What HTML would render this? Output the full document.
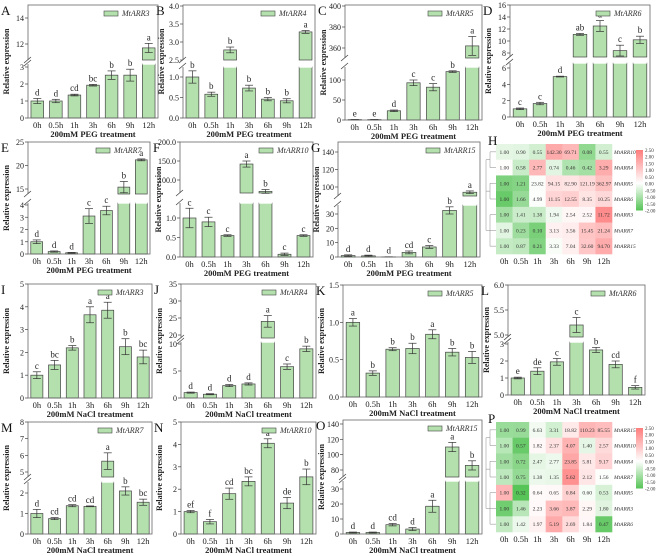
<!DOCTYPE html>
<html><head><meta charset="utf-8">
<style>
html,body{margin:0;padding:0;background:#fff;}
svg{display:block;font-family:"Liberation Serif",serif;}
</style></head>
<body>
<svg id="fig" width="657" height="556" viewBox="0 0 657 556" xmlns="http://www.w3.org/2000/svg"></svg>
<script>
const categories = ["0h","0.5h","1h","3h","6h","9h","12h"];
const valsA = [1,1,1.35,1.93,2.52,2.52,11.7];
const errA = [0.15,0.1,0.05,0.05,0.25,0.35,0.35];
const letA = ["d","d","cd","bc","b","b","a"];
const valsB = [1,0.58,2.78,0.73,0.46,0.42,3.28];
const errB = [0.15,0.05,0.08,0.07,0.04,0.05,0.04];
const letB = ["b","b","b","b","b","b","a"];
const valsC = [1,1,23,93,82,121,362];
const errC = [0.5,0.5,2,7,9,2,9];
const letC = ["e","e","d","c","c","b","a"];
const valsD = [1,1.65,4.95,11.1,12.5,8.4,10.2];
const errD = [0.1,0.15,0.05,0.15,0.9,0.9,0.6];
const letD = ["c","c","d","ab","a","c","b"];
const valsE = [1,0.2,0.1,3.1,3.55,15.4,21.2];
const errE = [0.15,0.05,0.03,0.6,0.35,1.2,0.2];
const letE = ["d","d","d","c","c","b","a"];
const valsF = [1,0.9,0.55,142,70,0.07,0.55];
const errF = [0.25,0.12,0.02,8,5,0.03,0.02];
const letF = ["c","c","c","a","b","c","c"];
const valsG = [1,0.8,0.1,3.2,7,32.5,94];
const errG = [0.5,0.5,0.1,1,1,2.5,1.5];
const letG = ["d","d","d","cd","c","b","a"];
const valsI = [1,1.45,2.2,3.65,3.85,2.25,1.8];
const errI = [0.15,0.2,0.1,0.35,0.35,0.35,0.3];
const letI = ["c","bc","b","a","a","b","bc"];
const valsJ = [1,0.7,2.3,2.6,24,5.8,9.1];
const errJ = [0.1,0.1,0.2,0.2,1.7,0.5,0.5];
const letJ = ["d","d","d","d","a","c","b"];
const valsK = [1,0.32,0.64,0.65,0.84,0.6,0.53];
const errK = [0.05,0.03,0.02,0.07,0.06,0.05,0.08];
const letK = ["a","b","b","b","a","b","b"];
const valsL = [1,1.4,1.95,5.2,2.65,1.8,0.45];
const errL = [0.05,0.2,0.2,0.15,0.15,0.2,0.1];
const letL = ["e","de","c","c","b","cd","f"];
const valsM = [1,0.75,1.38,1.35,5.65,2.1,1.55];
const errM = [0.2,0.05,0.05,0.02,0.5,0.2,0.15];
const letM = ["d","cd","cd","cd","a","b","bc"];
const valsN = [1,0.55,1.8,2.35,4.05,1.38,2.55];
const errN = [0.05,0.1,0.25,0.2,0.2,0.25,0.35];
const letN = ["ef","f","cd","bc","a","de","b"];
const valsO = [1,1,6.2,3.3,18.5,110,86];
const errO = [0.3,0.3,0.8,1,4,6,6];
const letO = ["d","d","cd","d","a","a","b"];

const heatRowsH = ["MtARR10","MtARR4","MtARR5","MtARR6","MtARR3","MtARR7","MtARR15"];
const heatH = [
 [1.00,0.90,0.55,142.30,69.71,0.08,0.55],
 [1.00,0.58,2.77,0.74,0.46,0.42,3.29],
 [1.00,1.21,23.82,94.15,82.90,121.19,362.97],
 [1.00,1.66,4.99,11.15,12.55,8.35,10.25],
 [1.00,1.41,1.38,1.94,2.54,2.52,11.72],
 [1.00,0.23,0.10,3.13,3.56,15.45,21.24],
 [1.00,0.87,0.21,3.33,7.04,32.60,94.70]];
const heatRowsP = ["MtARR15","MtARR10","MtARR4","MtARR7","MtARR5","MtARR3","MtARR6"];
const heatP = [
 [1.00,0.99,6.63,3.31,18.82,110.23,85.55],
 [1.00,0.57,1.82,2.37,4.07,1.40,2.57],
 [1.00,0.72,2.47,2.77,23.85,5.81,9.17],
 [1.00,0.75,1.38,1.35,5.62,2.12,1.56],
 [1.00,0.32,0.64,0.65,0.84,0.60,0.53],
 [1.00,1.46,2.23,3.66,3.87,2.29,1.80],
 [1.00,1.42,1.97,5.19,2.69,1.84,0.47]];
const cbTicks = ["2.50","2.00","1.50","1.00","0.50","0.00","-0.50","-1.00","-1.50","-2.00"];

const NS="http://www.w3.org/2000/svg";
const svg=document.getElementById('fig');
function el(tag,attrs,parent,text){const e=document.createElementNS(NS,tag);for(const k in attrs)e.setAttribute(k,attrs[k]);if(text!==undefined)e.textContent=text;(parent||svg).appendChild(e);return e;}

const PEG="200mM PEG treatment", NACL="200mM NaCl treatment";
const panels=[
 {id:"A",gene:"MtARR3",vals:valsA,err:errA,let:letA,x0:28,x1:158,top:5,bot:118,title:PEG,
  segs:[{va:0,ya:118,vb:3,yb:67,lo:118,hi:64,ticks:[0,1,2,3]},{va:12,ya:44,vb:14,yb:18,lo:60,hi:5,ticks:[12,14]}],fmt:0},
 {id:"B",gene:"MtARR4",vals:valsB,err:errB,let:letB,x0:183,x1:315,top:5,bot:118,title:PEG,
  segs:[{va:0,ya:118,vb:1,yb:77,lo:118,hi:67,ticks:[0,0.5,1]},{va:3,ya:42,vb:4,yb:6,lo:60,hi:5,ticks:[2.5,3,3.5,4]}],fmt:1},
 {id:"C",gene:"MtARR5",vals:valsC,err:errC,let:letC,x0:345,x1:482,top:5,bot:120,title:PEG,
  segs:[{va:0,ya:120,vb:100,yb:80,lo:120,hi:67,ticks:[0,50,100]},{va:360,ya:48,vb:400,yb:6,lo:58,hi:5,ticks:[360,380,400]}],fmt:0},
 {id:"D",gene:"MtARR6",vals:valsD,err:errD,let:letD,x0:510,x1:650,top:5,bot:117,title:PEG,
  segs:[{va:0,ya:117,vb:6,yb:68,lo:117,hi:63,ticks:[0,2,4,6]},{va:8,ya:53,vb:16,yb:5,lo:57,hi:5,ticks:[8,10,12,14,16]}],fmt:0},
 {id:"E",gene:"MtARR7",vals:valsE,err:errE,let:letE,x0:28,x1:150,top:142,bot:254,title:PEG,
  segs:[{va:0,ya:254,vb:4,yb:205,lo:254,hi:203,ticks:[0,1,2,3,4]},{va:15,ya:189,vb:25,yb:142,lo:194,hi:142,ticks:[15,20,25]}],fmt:0},
 {id:"F",gene:"MtARR10",vals:valsF,err:errF,let:letF,x0:180,x1:313,top:142,bot:257,title:PEG,
  segs:[{va:0,ya:257,vb:1,yb:218,lo:257,hi:203,ticks:[0,0.5,1]},{va:100,ya:180,vb:200,yb:142,lo:193,hi:142,ticks:[100,150,200]}],fmt:1},
 {id:"G",gene:"MtARR15",vals:valsG,err:errG,let:letG,x0:338,x1:480,top:142,bot:257,title:PEG,
  segs:[{va:0,ya:257,vb:30,yb:214,lo:257,hi:205,ticks:[0,10,20,30]},{va:100,ya:187,vb:140,yb:152,lo:196,hi:142,ticks:[100,120,140]}],fmt:0},
 {id:"I",gene:"MtARR3",vals:valsI,err:errI,let:letI,x0:28,x1:152,top:284,bot:398,title:NACL,
  segs:[{va:0,ya:398,vb:5,yb:284,lo:398,hi:284,ticks:[0,1,2,3,4,5]}],fmt:0},
 {id:"J",gene:"MtARR4",vals:valsJ,err:errJ,let:letJ,x0:181,x1:316,top:284,bot:398,title:NACL,
  segs:[{va:0,ya:398,vb:10,yb:344,lo:398,hi:342,ticks:[0,5,10]},{va:20,ya:335,vb:35,yb:284,lo:338,hi:284,ticks:[20,25,30,35]}],fmt:0},
 {id:"K",gene:"MtARR5",vals:valsK,err:errK,let:letK,x0:343,x1:482,top:285,bot:397,title:NACL,
  segs:[{va:0,ya:397,vb:1.5,yb:285,lo:397,hi:285,ticks:[0,0.5,1,1.5]}],fmt:1},
 {id:"L",gene:"MtARR6",vals:valsL,err:errL,let:letL,x0:508,x1:645,top:285,bot:395,title:NACL,
  segs:[{va:0,ya:395,vb:3,yb:344,lo:395,hi:342,ticks:[0,1,2,3]},{va:5,ya:335,vb:6,yb:285,lo:337,hi:285,ticks:[5,5.5,6]}],fmt:1,fmtLow:0},
 {id:"M",gene:"MtARR7",vals:valsM,err:errM,let:letM,x0:28,x1:152,top:422,bot:534,title:NACL,
  segs:[{va:0,ya:534,vb:2,yb:493,lo:534,hi:482,ticks:[0,1,2]},{va:5,ya:472,vb:8,yb:422,lo:477,hi:422,ticks:[5,6,7,8]}],fmt:0},
 {id:"N",gene:"MtARR10",vals:valsN,err:errN,let:letN,x0:181,x1:316,top:422,bot:534,title:NACL,
  segs:[{va:0,ya:534,vb:5,yb:422,lo:534,hi:422,ticks:[0,1,2,3,4,5]}],fmt:0},
 {id:"O",gene:"MtARR15",vals:valsO,err:errO,let:letO,x0:343,x1:482,top:420,bot:534,title:NACL,
  segs:[{va:0,ya:534,vb:30,yb:489,lo:534,hi:481,ticks:[0,10,20,30]},{va:80,ya:470,vb:140,yb:424,lo:477,hi:420,ticks:[80,100,120,140]}],fmt:0}
];

function drawPanel(p){
  const g=el('g',{},svg);
  
  
  const y=(s,v)=>s.ya+(v-s.va)*(s.yb-s.ya)/(s.vb-s.va);
  const n=categories.length, step=(p.x1-p.x0)/n, bw=step*0.68;
  p.vals.forEach((v,i)=>{
    const cx=p.x0+step*(i+0.5);
    let topY=null, segTop=null;
    p.segs.forEach((s,si)=>{
      const vmin=s.va+(s.lo-s.ya)*(s.vb-s.va)/(s.yb-s.ya);
      if(v<=vmin) return;
      let yt=y(s,v), clipped=false;
      if(yt<s.hi){yt=s.hi;clipped=true;}
      const r=el('rect',{x:cx-bw/2,y:yt,width:bw,height:Math.max(0,s.lo-yt),fill:"#b4e0ad",stroke:"#444","stroke-width":0.7},g);
      
      
      if(!clipped){topY=yt;segTop=s;}
      else { el('line',{x1:cx-bw/2,x2:cx+bw/2,y1:yt,y2:yt,stroke:"#fff","stroke-width":1.4},g); }
    });
    if(topY!==null){
      const e1=y(segTop,v+p.err[i]), e0=y(segTop,v-p.err[i]);
      el('line',{x1:cx,x2:cx,y1:e1,y2:e0,stroke:"#333","stroke-width":0.7},g);
      el('line',{x1:cx-4,x2:cx+4,y1:e1,y2:e1,stroke:"#333","stroke-width":0.7},g);
      el('line',{x1:cx-4,x2:cx+4,y1:e0,y2:e0,stroke:"#333","stroke-width":0.7},g);
      const t=el('text',{x:cx,y:e1-3,"font-size":9,"text-anchor":"middle",fill:"#222"},g,p.let[i]);
      
      
    }
    const xl=el('text',{x:cx,y:p.bot+10,"font-size":8.5,"text-anchor":"middle",fill:"#222"},g,categories[i]);
    
    
  });
  el('rect',{x:p.x0,y:p.top,width:p.x1-p.x0,height:p.bot-p.top,fill:"none",stroke:"#666","stroke-width":0.8},g);
  for(let k=0;k<p.segs.length-1;k++){
    const a=p.segs[k].hi, b=p.segs[k+1].lo;
    el('rect',{x:p.x0-2,y:b,width:4,height:a-b,fill:"#fff"},g);
    el('line',{x1:p.x0-4,x2:p.x0+3,y1:a+2,y2:a-4,stroke:"#444","stroke-width":0.8},g);
    el('line',{x1:p.x0-4,x2:p.x0+3,y1:b+3,y2:b-3,stroke:"#444","stroke-width":0.8},g);
  }
  p.segs.forEach((s,si)=>{
    s.ticks.forEach(t=>{
      const yy=y(s,t);
      el('line',{x1:p.x0-3,x2:p.x0,y1:yy,y2:yy,stroke:"#444","stroke-width":0.7},g);
      const f=(si===0&&p.fmtLow!==undefined)?p.fmtLow:p.fmt;
      const tl=el('text',{x:p.x0-4,y:yy+3,"font-size":8,"text-anchor":"end",fill:"#222"},g,t.toFixed(f));
      
      
    });
  });
  const mid=(p.top+p.bot)/2, yx=p.x0-19;
  const yl=el('text',{x:yx,y:mid,"font-size":8,"font-weight":"bold","text-anchor":"middle",transform:`rotate(-90 ${yx} ${mid})`,fill:"#222"},g,"Relative expression");
  
  
  const xt=el('text',{x:(p.x0+p.x1)/2,y:p.bot+19,"font-size":8.5,"font-weight":"bold","text-anchor":"middle",fill:"#222"},g,p.title);
  
  
  const pl=el('text',{x:Math.max(1,p.x0-27),y:p.top+10,"font-size":13,fill:"#111"},g,p.id);
  
  
  const lg=el('g',{},g);
  
  
  el('rect',{x:p.x1-54,y:p.top+6,width:14,height:5,fill:"#b4e0ad",stroke:"#444","stroke-width":0.6},lg);
  el('text',{x:p.x1-36,y:p.top+11,"font-size":8,"font-style":"italic",fill:"#333"},lg,p.gene);
}
panels.forEach(drawPanel);

function heatColor(z){
  z=Math.max(-2,Math.min(2.5,z));
  if(z>=0){const t=z/2.5;return `rgb(255,${Math.round(255-t*130)},${Math.round(255-t*130)})`;}
  const t=-z/2;return `rgb(${Math.round(255-t*170)},${Math.round(255-t*60)},${Math.round(255-t*170)})`;
}
function drawHeat(id,rows,data,x0,y0,x1,y1){
  const g=el('g',{},svg);
  
  
  const cw=(x1-x0)/categories.length, ch=(y1-y0)/rows.length;
  data.forEach((row,r)=>{
    const lg=row.map(v=>Math.log2(v));
    const m=lg.reduce((a,b)=>a+b,0)/lg.length;
    const sd=Math.sqrt(lg.reduce((a,b)=>a+(b-m)*(b-m),0)/lg.length)||1;
    row.forEach((v,c)=>{
      const z=(lg[c]-m)/sd;
      const cell=el('rect',{x:x0+c*cw,y:y0+r*ch,width:cw+0.3,height:ch+0.3,fill:heatColor(z)},g);
      
      
      el('text',{x:x0+c*cw+cw/2,y:y0+r*ch+ch/2+2,"font-size":5.5,"text-anchor":"middle",fill:"#333"},g,v.toFixed(2));
    });
    el('text',{x:x1+2,y:y0+r*ch+ch/2+2,"font-size":5.5,"font-style":"italic",fill:"#333"},g,rows[r]);
    el('line',{x1:x0-6,x2:x0,y1:y0+r*ch+ch/2,y2:y0+r*ch+ch/2,stroke:"#888","stroke-width":0.5},g);
  });
  el('path',{d:`M${x0-6} ${y0+ch/2} V${y0+ch*1.5} M${x0-6} ${y0+ch} H${x0-10} M${x0-6} ${y0+ch*2.5} V${y0+ch*3.5} M${x0-6} ${y0+ch*3} H${x0-10} M${x0-6} ${y0+ch*4.5} V${y0+ch*6.5} M${x0-6} ${y0+ch*5.5} H${x0-10} M${x0-10} ${y0+ch} V${y0+ch*5.5}`,stroke:"#888","stroke-width":0.5,fill:"none"},g);
  categories.forEach((c,i)=>{
    el('text',{x:x0+i*cw+cw/2,y:y1+10,"font-size":8.5,"text-anchor":"middle",fill:"#222"},g,c);
  });
  el('text',{x:x0-8,y:y0+1,"font-size":13,fill:"#111"},g,id);
  const cbx=x1+24, cby=y0+6, cbh=(y1-y0)*0.55;
  const grad=el('defs',{},g);
  const lgd=el('linearGradient',{id:'cb'+id,x1:0,y1:0,x2:0,y2:1},grad);
  el('stop',{offset:"0",'stop-color':heatColor(2.5)},lgd);
  el('stop',{offset:"0.55",'stop-color':"#ffffff"},lgd);
  el('stop',{offset:"1",'stop-color':heatColor(-2)},lgd);
  const cb=el('rect',{x:cbx,y:cby,width:7,height:cbh,fill:`url(#cb${id})`},g);
  
  
  cbTicks.forEach((t,i)=>{
    el('text',{x:cbx+9,y:cby+2+i*cbh/(cbTicks.length-1),"font-size":5,fill:"#333"},g,t);
  });
}
drawHeat("H",heatRowsH,heatH,496,144,612,254);
drawHeat("P",heatRowsP,heatP,496,422,612,532);
</script>
</body></html>
